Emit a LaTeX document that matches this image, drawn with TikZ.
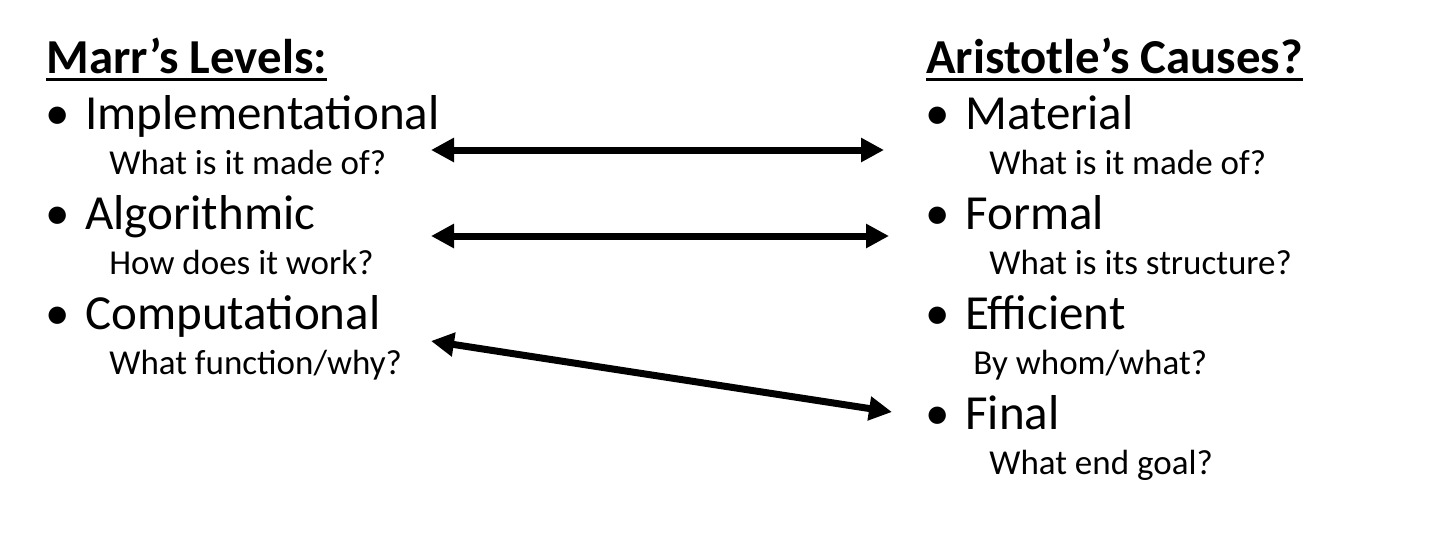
\documentclass[tikz,border=0pt]{standalone}
\usepackage{fontspec}
\setmainfont{Carlito}
\usetikzlibrary{arrows.meta}

\begin{document}
\begin{tikzpicture}[x=0.5pt, y=-0.5pt]

        % Setup the styles for the texts and arrows
        \tikzset{head style/.style={anchor=base west, inner sep=0pt,
                                    font=\bfseries\fontsize{24.4}{28}\selectfont},
                 item style/.style={anchor=base west, inner sep=0pt,
                                    font=\fontsize{24.5}{28}\selectfont},
                 ask style/.style={anchor=base west, inner sep=0pt,
                                   font=\fontsize{17.5}{20}\selectfont},
                 link style/.style={line width=3.5pt,
                                    {Triangle[length=11.5pt, width=11.5pt]}-{Triangle[length=11.5pt, width=11.5pt]}}}

        \useasboundingbox (0, 0) rectangle (1453, 559);

        % Draw the headings
        \node[head style] at (46, 73)  (marr)  {Marr’s Levels:};
        \node[head style] at (926, 73) (arist) {Aristotle’s Causes?};
        \draw[line width=1.5pt] ([yshift=-3pt]marr.base west) -- ([yshift=-3pt]marr.base east);
        \draw[line width=1.5pt] ([yshift=-3pt]arist.base west) -- ([yshift=-3pt]arist.base east);

        % Draw the bullets
        \foreach \y/\n in {129/1, 229/2, 329/3} {
            \node[item style] at (45, \y)  (lb\n) {•};
        }
        \foreach \y/\n in {129/1, 229/2, 329/3, 429/4} {
            \node[item style] at (925, \y) (rb\n) {•};
        }

        % Draw the levels
        \node[item style] at (85, 129)  (impl)   {Implementational};
        \node[ask style]  at (109, 174) (impl-q) {What is it made of?};
        \node[item style] at (85, 229)  (algo)   {Algorithmic};
        \node[ask style]  at (109, 274) (algo-q) {How does it work?};
        \node[item style] at (85, 329)  (comp)   {Computational};
        \node[ask style]  at (109, 374) (comp-q) {What function/why?};

        % Draw the causes
        \node[item style] at (965, 129) (mat)    {Material};
        \node[ask style]  at (989, 174) (mat-q)  {What is it made of?};
        \node[item style] at (965, 229) (form)   {Formal};
        \node[ask style]  at (989, 274) (form-q) {What is its structure?};
        \node[item style] at (965, 329) (eff)    {Efficient};
        \node[ask style]  at (973, 374) (eff-q)  {By whom/what?};
        \node[item style] at (965, 429) (fin)    {Final};
        \node[ask style]  at (989, 474) (fin-q)  {What end goal?};

        % Arrow ends
        \coordinate (impl-end) at (431, 150);
        \coordinate (mat-end)  at (884, 150);
        \coordinate (algo-end) at (431, 236);
        \coordinate (form-end) at (889, 236);
        \coordinate (comp-end) at (431, 341);
        \coordinate (fin-end)  at (892, 412);

        % Connect the levels with the causes
        \draw[link style] (impl-end) -- (mat-end);
        \draw[link style] (algo-end) -- (form-end);
        \draw[link style] (comp-end) -- (fin-end);

\end{tikzpicture}
\end{document}
